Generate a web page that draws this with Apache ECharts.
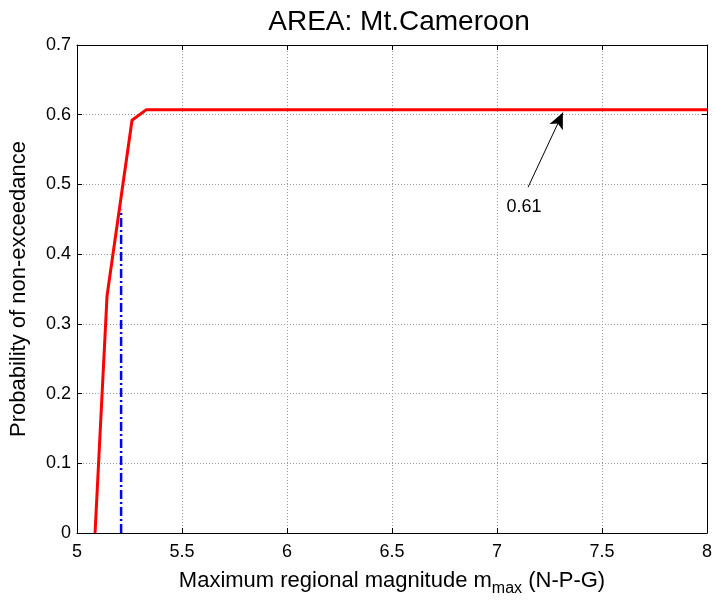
<!DOCTYPE html>
<html><head><meta charset="utf-8">
<script src="https://cdn.jsdelivr.net/npm/echarts@6/dist/echarts.min.js"></script>
<style>html,body{margin:0;padding:0;background:#fff}#c{width:715px;height:602px}</style>
</head><body><div id="c"></div>
<script>
var xTicks = [5, 5.5, 6, 6.5, 7, 7.5, 8];
var yTicks = [0, 0.1, 0.2, 0.3, 0.4, 0.5, 0.6, 0.7];
var redX = [5.086, 5.143, 5.262, 5.329, 8];
var redY = [0, 0.34, 0.592, 0.607, 0.607];
var blueX = [5.21, 5.21];
var blueY = [0, 0.464];
var arrowFrom = [7.148, 0.496];
var arrowTo = [7.314, 0.603];
var annotText = '0.61';
var annotPos = [7.129, 0.467];

var font = 'Liberation Sans, Arial, Helvetica, sans-serif';
function pairs(xs, ys){ return xs.map(function(x,i){return [x, ys[i]];}); }

var chart = echarts.init(document.getElementById('c'));
var axisLineStyle = {color:'#000', width:1};
var baseX = {type:'value', min:xTicks[0], max:xTicks[xTicks.length-1], interval:xTicks[1]-xTicks[0]};
var baseY = {type:'value', min:yTicks[0], max:yTicks[yTicks.length-1], interval:0.1};
chart.setOption({
  animation:false,
  backgroundColor:'#fff',
  title:{text:'AREA: Mt.Cameroon', left:394, top:3, textAlign:'center',
    textStyle:{fontFamily:font, fontSize:28, fontWeight:'normal', color:'#000'}},
  grid:{left:77, right:8, top:45, bottom:64},
  xAxis:[
    Object.assign({}, baseX, {position:'bottom',
      axisLine:{onZero:false, lineStyle:axisLineStyle},
      axisTick:{inside:true, length:5, lineStyle:{color:'#000'}},
      axisLabel:{fontFamily:font, fontSize:18, color:'#000', margin:10,
        formatter:function(v){return String(v);}},
      splitLine:{show:true, lineStyle:{color:'#999', type:[1,2], width:1}},
      name:'{n|Maximum regional magnitude m}{s|max}{n| (N-P-G)}',
      nameLocation:'middle', nameGap:32,
      nameTextStyle:{rich:{n:{fontFamily:font, fontSize:22, color:'#000'},
        s:{fontFamily:font, fontSize:16, color:'#000', verticalAlign:'top', padding:[16,0,0,0]}}}}),
    Object.assign({}, baseX, {position:'top',
      axisLine:{onZero:false, lineStyle:axisLineStyle},
      axisTick:{inside:true, length:5, lineStyle:{color:'#000'}},
      axisLabel:{show:false}, splitLine:{show:false}})
  ],
  yAxis:[
    Object.assign({}, baseY, {position:'left',
      axisLine:{show:true, onZero:false, lineStyle:axisLineStyle},
      axisTick:{show:true, inside:true, length:5, lineStyle:{color:'#000'}},
      axisLabel:{fontFamily:font, fontSize:18, color:'#000', margin:6,
        formatter:function(v){return String(v);}},
      splitLine:{show:true, lineStyle:{color:'#999', type:[1,2], width:1}},
      name:'Probability of non-exceedance', nameLocation:'middle', nameGap:47,
      nameTextStyle:{fontFamily:font, fontSize:22, color:'#000'}}),
    Object.assign({}, baseY, {position:'right',
      axisLine:{show:true, onZero:false, lineStyle:axisLineStyle},
      axisTick:{show:true, inside:true, length:5, lineStyle:{color:'#000'}},
      axisLabel:{show:false}, splitLine:{show:false}})
  ],
  series:[
    {type:'line', data:pairs(blueX, blueY), showSymbol:false, symbol:'none',
      lineStyle:{color:'#0000ff', width:2.5, type:[9,3,2,3]}, z:3},
    {type:'line', data:pairs(redX, redY), showSymbol:false, symbol:'none',
      lineStyle:{color:'#ff0000', width:3}, z:4,
      markLine:{silent:true, symbol:['none','arrow'], symbolSize:[11,16],
        lineStyle:{color:'#000', width:1, type:'solid'}, label:{show:false},
        data:[[{coord:arrowFrom},{coord:arrowTo}]]},
      markPoint:{silent:true, symbol:'circle', symbolSize:0,
        label:{show:true, position:'inside', formatter:annotText, fontFamily:font, fontSize:18, color:'#000'},
        data:[{coord:annotPos}]}}
  ]
});
</script></body></html>
